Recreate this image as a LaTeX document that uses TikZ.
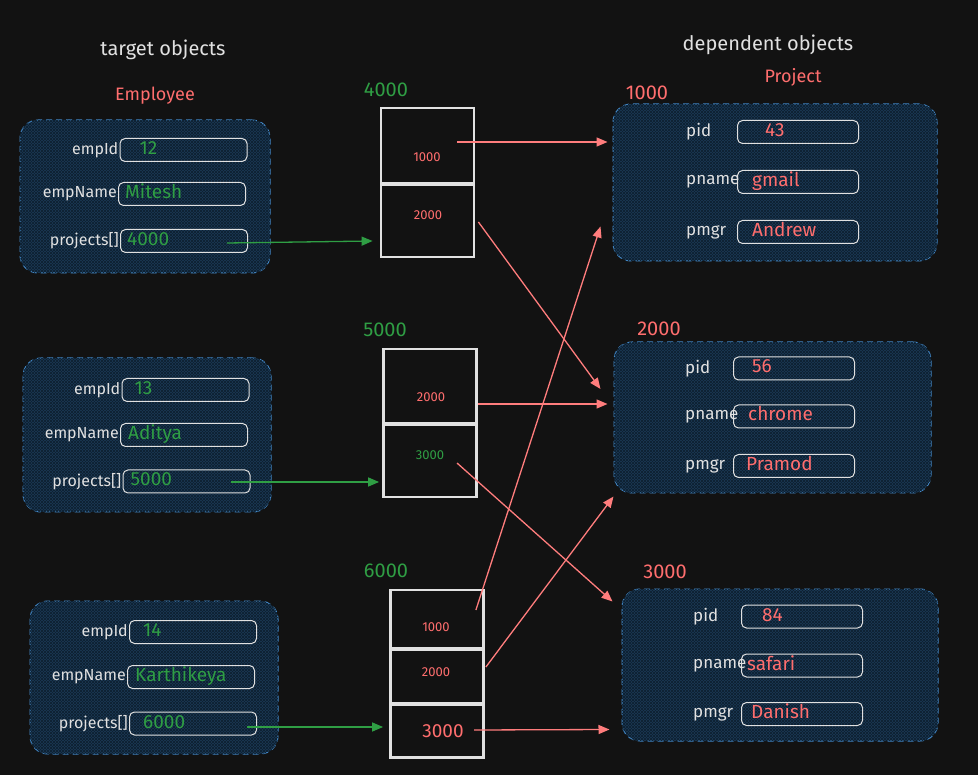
\documentclass[tikz,border=0pt]{standalone}
\newcommand{\empfield}[6]{%
  \node[empbox] (#1) at (#2,#3) {};
  \node[emplbl, left=1pt of #1] (#1-lbl) {#4};
  \node[empval] (#1-val) at ($(#1.west)+(#6,0)$) {#5};
}
\newcommand{\projfield}[7]{%
  \node[projbox] (#1) at (#2,#3) {};
  \node[projlbl] (#1-lbl) at (#4,#3) {#5};
  \node[projval] (#1-val) at ($(#1.west)+(#7,0)$) {#6};
}
\usepackage{fontspec}
\setmainfont{Fira Sans}
\usepackage{tikz}
\usetikzlibrary{
  arrows.meta,
  calc,
  positioning,
  patterns
}

\definecolor{bgdark}{RGB}{18,18,18}
\definecolor{boxblue}{RGB}{69,140,205}
\definecolor{boxfill}{RGB}{27,57,84}
\definecolor{hatch}{RGB}{14,32,48}
\definecolor{txtred}{RGB}{255,110,110}
\definecolor{arrred}{RGB}{255,125,125}
\definecolor{txtgreen}{RGB}{47,158,68}
\definecolor{txtwhite}{RGB}{225,225,225}

\begin{document}
\begin{tikzpicture}[x=1pt, y=-1pt]

\tikzset{
  container/.style={
    draw=boxblue,
    dash pattern=on 6pt off 4pt,
    line width=1pt,
    rounded corners=18pt,
    fill=boxfill,
    inner sep=0pt,
    postaction={pattern=north east lines, pattern color=hatch},
    postaction={pattern=north west lines, pattern color=hatch}
  },
  empbox/.style={
    draw=txtwhite,
    line width=1pt,
    rounded corners=5pt,
    minimum width=127pt,
    minimum height=23pt,
    inner sep=0pt
  },
  projbox/.style={
    empbox,
    minimum width=121pt
  },
  emplbl/.style={text=txtwhite, inner sep=0pt, font=\fontsize{16}{16}\selectfont},
  projlbl/.style={emplbl, anchor=west, font=\fontsize{17}{17}\selectfont},
  empval/.style={
    anchor=west,
    inner sep=0pt,
    text height=13pt,
    text depth=4pt,
    text=txtgreen,
    font=\fontsize{19}{19}\selectfont
  },
  projval/.style={empval, text=txtred},
  cell/.style={
    draw=txtwhite,
    line width=2.8pt,
    fill=bgdark,
    inner sep=0pt,
    minimum width=93pt
  },
  celltxt/.style={text=txtred, inner sep=0pt, font=\fontsize{13}{13}\selectfont},
  title/.style={text=txtwhite, font=\fontsize{20}{20}\selectfont},
  classname/.style={text=txtred, font=\fontsize{18}{18}\selectfont},
  addr/.style={text=txtgreen, font=\fontsize{20}{20}\selectfont},
  greenarrow/.style={draw=txtgreen, line width=1.3pt, -{Triangle[length=11pt, width=9pt]}},
  redarrow/.style={draw=arrred, line width=1.3pt, -{Triangle[length=11pt, width=9pt]}}
}

\useasboundingbox (0,0) rectangle (978,775);
\fill[bgdark] (0,0) rectangle (978,775);

% NODES ----------------------------------------------------------

% Titles
\node[title] (ttarget) at (163,50) {target objects};
\node[title] (tdep)    at (768,45) {dependent objects};
\node[classname] (cemp)  at (155,96) {Employee};
\node[classname] (cproj) at (793,77) {Project};

% Employee objects
\node[container, minimum width=250pt, minimum height=153pt] (emp1) at (145,196.5) {};
\node[container, minimum width=248pt, minimum height=154pt] (emp2) at (147,435)   {};
\node[container, minimum width=248pt, minimum height=153pt] (emp3) at (154,677.5) {};

\empfield{e1id}{183.5}{150}{empId}{12}{20}
\empfield{e1nm}{182}{194}{empName}{Mitesh}{7}
\empfield{e1pr}{184}{241}{projects[]}{4000}{7}

\empfield{e2id}{185.5}{390}{empId}{13}{13}
\empfield{e2nm}{184}{435}{empName}{Aditya}{8}
\empfield{e2pr}{186.5}{481.5}{projects[]}{5000}{8}

\empfield{e3id}{193}{632}{empId}{14}{14}
\empfield{e3nm}{191}{677}{empName}{Karthikeya}{8}
\empfield{e3pr}{193}{723.5}{projects[]}{6000}{14}

% Arrays of references
\node[addr] (l4000) at (386,90)  {4000};
\node[addr] (l5000) at (385,330) {5000};
\node[addr] (l6000) at (386,571) {6000};

\node[cell, minimum height=75pt] (a4a) at (427.5,145.5) {};
\node[cell, minimum height=72pt] (a4b) at (427.5,221)   {};
\node[cell, minimum height=74pt] (a5a) at (430,386)     {};
\node[cell, minimum height=72pt] (a5b) at (430,461)     {};
\node[cell, minimum height=58pt] (a6a) at (437,619)     {};
\node[cell, minimum height=53pt] (a6b) at (437,676.5)   {};
\node[cell, minimum height=53pt] (a6c) at (437,731)     {};

\node[celltxt] (a4a-txt) at (427,157) {1000};
\node[celltxt] (a4b-txt) at (428,215) {2000};
\node[celltxt] (a5a-txt) at (431,397) {2000};
\node[celltxt, text=txtgreen] (a5b-txt) at (430,455) {3000};
\node[celltxt] (a6a-txt) at (436,627) {1000};
\node[celltxt] (a6b-txt) at (436,672) {2000};
\node[celltxt, font=\fontsize{19}{19}\selectfont] (a6c-txt) at (443,731) {3000};

% Project objects
\node[addr, text=txtred] (l1000) at (647,93)  {1000};
\node[addr, text=txtred] (l2000) at (659,329) {2000};
\node[addr, text=txtred] (l3000) at (665,572) {3000};

\node[container, minimum width=324pt, minimum height=157pt] (proj1) at (775,182.5) {};
\node[container, minimum width=317pt, minimum height=151pt] (proj2) at (772.5,417.5) {};
\node[container, minimum width=316pt, minimum height=152pt] (proj3) at (780,665) {};

\projfield{p1id}{798}{132}{686}{pid}{43}{28}
\projfield{p1nm}{798}{182}{686}{pname}{gmail}{15}
\projfield{p1mg}{798}{232}{686}{pmgr}{Andrew}{15}

\projfield{p2id}{794}{368.5}{685}{pid}{56}{19}
\projfield{p2nm}{794}{416.5}{685}{pname}{chrome}{15}
\projfield{p2mg}{794}{466}{685}{pmgr}{Pramod}{13}

\projfield{p3id}{802}{616.5}{693}{pid}{84}{21}
\projfield{p3nm}{802}{665.5}{693}{pname}{safari}{6}
\projfield{p3mg}{802}{714}{693}{pmgr}{Danish}{10}

% DRAWS ---------------------------------------------------------

% Employee -> array
\draw[greenarrow] ($(e1pr.east)+(-21,2)$)   -- ($(a4b.west)+(-7,20)$);
\draw[greenarrow] ($(e2pr.east)+(-20,0.5)$) -- ($(a5b.west)+(-3,21)$);
\draw[greenarrow] ($(e3pr.east)+(-10,3.5)$) -- ($(a6c.west)+(-6,-4)$);

% array -> Project
\draw[redarrow] ($(a4a.east)+(-18,-3.5)$) -- ($(proj1.west)+(-5,-40.5)$);
\draw[redarrow] ($(a4b.east)+(3,1)$)      -- ($(proj2.west)+(-13,-28.5)$);
\draw[redarrow] ($(a5a.east)+(0,18)$)     -- ($(proj2.west)+(-6,-13.5)$);
\draw[redarrow] ($(a5b.center)+(27,2)$)   -- ($(proj3.north west)+(-9,13)$);
\draw[redarrow] ($(a6a.east)+(-9,-9)$)    -- ($(proj1.south west)+(-12,-35)$);
\draw[redarrow] ($(a6b.east)+(1,-9.5)$)   -- ($(proj2.south west)+(0,3)$);
\draw[redarrow] ($(a6c.center)+(37,-1)$)  -- ($(proj3.south west)+(-12,-12)$);

\end{tikzpicture}
\end{document}
